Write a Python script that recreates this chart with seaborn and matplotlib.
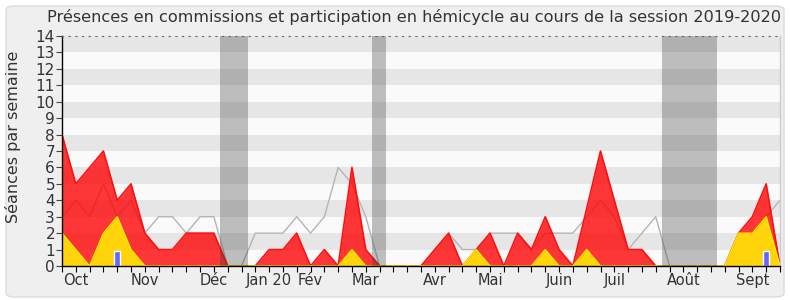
import numpy as np
import pandas as pd
import matplotlib
matplotlib.use("Agg")
import matplotlib.pyplot as plt
from matplotlib.patches import FancyBboxPatch
import seaborn as sns

# ---- data (one value per week of the 2019-2020 session) ----
weeks = list(range(53))
commissions = [8, 5, 6, 7, 4, 5, 2, 1, 1, 2, 2, 2, 0, 0, 0, 1, 1, 2, 0, 1,
               0, 6, 1, 0, 0, 0, 0, 1, 2, 0, 1, 2, 0, 2, 1, 3, 1, 0, 3.5, 7,
               4, 1, 1, 0, 0, 0, 0, 0, 0, 2, 3, 5, 0]
hemicycle = [2, 1, 0, 2, 3, 1, 0, 0, 0, 0, 0, 0, 0, 0, 0, 0, 0, 0, 0, 0,
             0, 1, 0, 0, 0, 0, 0, 0, 0, 0, 1, 0, 0, 0, 0, 1, 0, 0, 1, 0,
             0, 0, 0, 0, 0, 0, 0, 0, 0, 2, 2, 3, 0]
median = [3, 4, 3, 5, 3, 4, 2, 3, 3, 2, 3, 3, 0, 0, 2, 2, 2, 3, 2, 3,
          6, 5, 3, 0, 0, 0, 0, 1, 2, 1, 1, 2, 2, 2, 1, 2, 2, 2, 3, 4,
          3, 1, 2, 3, 0, 0, 0, 0, 0, 2, 2, 3, 4]
questions = [0, 0, 0, 0, 0.9, 0, 0, 0, 0, 0, 0, 0, 0, 0, 0, 0, 0, 0, 0, 0,
             0, 0, 0, 0, 0, 0, 0, 0, 0, 0, 0, 0, 0, 0, 0, 0, 0, 0, 0, 0,
             0, 0, 0, 0, 0, 0, 0, 0, 0, 0, 0, 0.9, 0]
vacation_weeks = [12, 13, 23, 44, 45, 46, 47]
month_labels = ["Oct", "Nov", "Déc", "Jan 20", "Fév", "Mar", "Avr", "Mai",
                "Juin", "Juil", "Août", "Sept"]
month_weeks = [1, 6, 11, 15, 18, 22, 27, 31, 36, 40, 45, 50]

df = pd.DataFrame({"week": weeks, "commissions": commissions,
                   "hemicycle": hemicycle, "median": median,
                   "questions": questions})

sns.set_theme(style="white")
plt.rcParams["font.family"] = ["DejaVu Sans"]

fig = plt.figure(figsize=(7.9, 3.0), dpi=100)
fig.patch.set_facecolor("white")
fig.patches.append(FancyBboxPatch((6 / 790, 3 / 300), 778 / 790, 291 / 300,
                                  boxstyle="round,pad=0,rounding_size=0.012",
                                  transform=fig.transFigure, facecolor="#efefef",
                                  edgecolor="#dcdcdc", linewidth=1.0, zorder=-10))

ax = fig.add_axes([62 / 790, 1 - 266 / 300, (780 - 62) / 790, (266 - 36) / 300])
ax.set_facecolor("#fafafa")
ymax = 14
for k in range(ymax):
    if k % 2 == 1:
        ax.axhspan(k, k + 1, color="#e6e6e6", lw=0, zorder=0)

sns.lineplot(data=df, x="week", y="median", ax=ax, color="#b4b4b4",
             linewidth=1.0, zorder=2)
ax.fill_between(df["week"], df["commissions"], color="#ff0000", alpha=0.78,
                lw=0, zorder=3)
sns.lineplot(data=df, x="week", y="commissions", ax=ax, color="#ff1010",
             linewidth=1.2, zorder=4)
ax.fill_between(df["week"], df["hemicycle"], color="#ffd40a", lw=0, zorder=5)
sns.lineplot(data=df, x="week", y="hemicycle", ax=ax, color="#ffee00",
             linewidth=1.0, zorder=6)
ax.bar(df["week"], df["questions"], width=0.4, color="#6666ff", zorder=7)

for w in vacation_weeks:
    ax.axvspan(w - 0.55, w + 0.45, color="#333333", alpha=0.3, lw=0, zorder=8)

ax.set_xlim(0, 52)
ax.set_ylim(0, ymax)
ax.set_yticks(range(0, ymax + 1))
ax.set_xticks(weeks)
labels = [""] * len(weeks)
for m, w in zip(month_labels, month_weeks):
    labels[w] = m
ax.set_xticklabels(labels)
ax.tick_params(axis="x", direction="out", length=4, width=0.8, color="black",
               labelsize=10.5, labelcolor="#333333", pad=1, bottom=True)
ax.tick_params(axis="y", direction="out", length=4, width=0.8, color="#444444",
               labelsize=11, labelcolor="#333333", pad=1, left=True)
ax.set_xlabel("")
ax.set_ylabel("Séances par semaine", fontsize=11.5, color="#333333")
ax.yaxis.set_label_coords(-0.057, 0.56)

for s in ["left", "bottom"]:
    ax.spines[s].set_color("black")
    ax.spines[s].set_linewidth(1.0)
ax.spines["right"].set_color("#cccccc")
ax.spines["right"].set_linewidth(1.0)
ax.spines["top"].set_color("#666666")
ax.spines["top"].set_linestyle((0, (1, 5)))
ax.spines["top"].set_linewidth(0.8)
for s in ax.spines.values():
    s.set_zorder(10)

fig.text(414 / 790, 1 - 17 / 300,
         "Présences en commissions et participation en hémicycle au cours de la session 2019-2020",
         ha="center", va="center", fontsize=11.6, color="#333333")

fig.savefig("out.png", dpi=100, facecolor=fig.get_facecolor())
